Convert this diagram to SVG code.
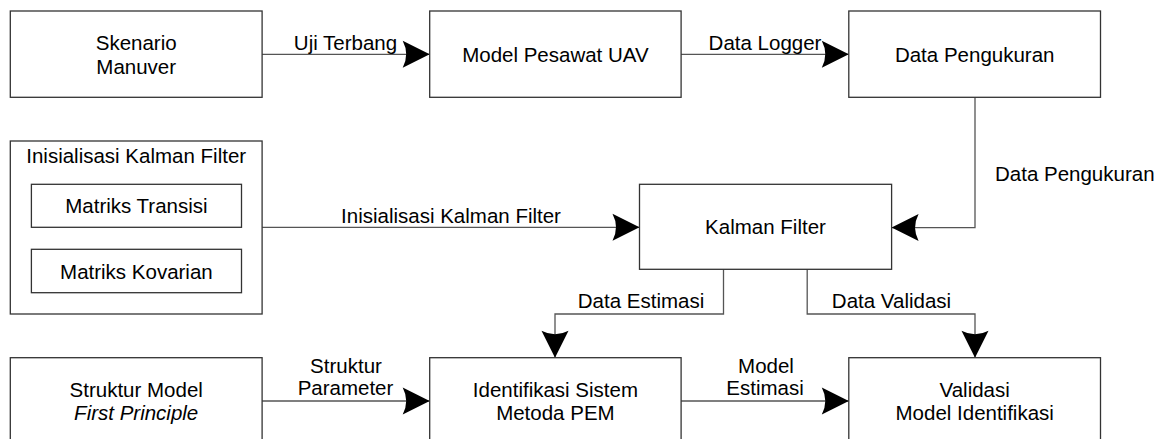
<svg xmlns="http://www.w3.org/2000/svg" width="1163" height="439" viewBox="0 0 1163 439">
<style>
.box{fill:#fff;stroke:#333;stroke-width:1.3}
.con{fill:none;stroke:#555;stroke-width:1.3}
text{font-family:"Liberation Sans",Arial,sans-serif;font-size:20.5px;fill:#000}
.c{text-anchor:middle}
</style>
<defs>
<marker id="ah" viewBox="-28 -15 30 30" markerWidth="30" markerHeight="30" refX="0" refY="0" orient="auto" markerUnits="userSpaceOnUse">
<path d="M0,0 L-27,-13.5 Q-20,0 -27,13.5 Z" fill="#000"/>
</marker>
</defs>
<rect width="1163" height="439" fill="#fff"/>
<g id="connectors">
<path class="con" d="M262,54.3 H429.7" marker-end="url(#ah)"/>
<path class="con" d="M681,54.3 H848.8" marker-end="url(#ah)"/>
<path class="con" d="M975,97.3 V227.6 H891.6" marker-end="url(#ah)"/>
<path class="con" d="M262,227.3 H639.5" marker-end="url(#ah)"/>
<path class="con" d="M723.5,269.3 V314 H555 V357.7" marker-end="url(#ah)"/>
<path class="con" d="M807.2,269.3 V314 H975 V357.7" marker-end="url(#ah)"/>
<path class="con" d="M262,401 H429.7" marker-end="url(#ah)"/>
<path class="con" d="M681,401 H848.8" marker-end="url(#ah)"/>
<text class="c" x="345.5" y="50">Uji Terbang</text>
<text class="c" x="765" y="50">Data Logger</text>
<text x="995" y="181">Data Pengukuran</text>
<text class="c" x="451" y="223">Inisialisasi Kalman Filter</text>
<text class="c" x="641" y="308">Data Estimasi</text>
<text class="c" x="891.5" y="308">Data Validasi</text>
<text class="c" x="346" y="373">Struktur</text>
<text class="c" x="345.5" y="395">Parameter</text>
<text class="c" x="766" y="373">Model</text>
<text class="c" x="765" y="395">Estimasi</text>
</g>
<g id="skenario">
<rect class="box" x="10.3" y="11" width="251.8" height="86.3"/>
<text class="c" x="136.2" y="50">Skenario</text>
<text class="c" x="136.2" y="73.5">Manuver</text>
</g>
<g id="model-pesawat">
<rect class="box" x="429.7" y="11" width="251.4" height="86.3"/>
<text class="c" x="555.4" y="61.5">Model Pesawat UAV</text>
</g>
<g id="data-pengukuran">
<rect class="box" x="848.8" y="11" width="251.7" height="86.3"/>
<text class="c" x="974.7" y="61.5">Data Pengukuran</text>
</g>
<g id="inisialisasi">
<rect class="box" x="10.3" y="141" width="251.8" height="173"/>
<text class="c" x="136.2" y="163">Inisialisasi Kalman Filter</text>
<g id="matriks-transisi">
<rect class="box" x="31.4" y="184.3" width="210.1" height="43"/>
<text class="c" x="136.4" y="213">Matriks Transisi</text>
</g>
<g id="matriks-kovarian">
<rect class="box" x="31.4" y="249.3" width="210.1" height="43.4"/>
<text class="c" x="136.4" y="278.5">Matriks Kovarian</text>
</g>
</g>
<g id="kalman">
<rect class="box" x="639.5" y="184.3" width="252.1" height="85"/>
<text class="c" x="765.5" y="234">Kalman Filter</text>
</g>
<g id="struktur-model">
<rect class="box" x="10.3" y="357.7" width="251.8" height="90"/>
<text class="c" x="136.2" y="396.5">Struktur Model</text>
<text class="c" x="136.2" y="419.5" font-style="italic">First Principle</text>
</g>
<g id="identifikasi">
<rect class="box" x="429.7" y="357.7" width="251.4" height="90"/>
<text class="c" x="555.4" y="396.5">Identifikasi Sistem</text>
<text class="c" x="555.4" y="419.5">Metoda PEM</text>
</g>
<g id="validasi">
<rect class="box" x="848.8" y="357.7" width="251.7" height="90"/>
<text class="c" x="974.7" y="396.5">Validasi</text>
<text class="c" x="974.7" y="419.5">Model Identifikasi</text>
</g>
</svg>
